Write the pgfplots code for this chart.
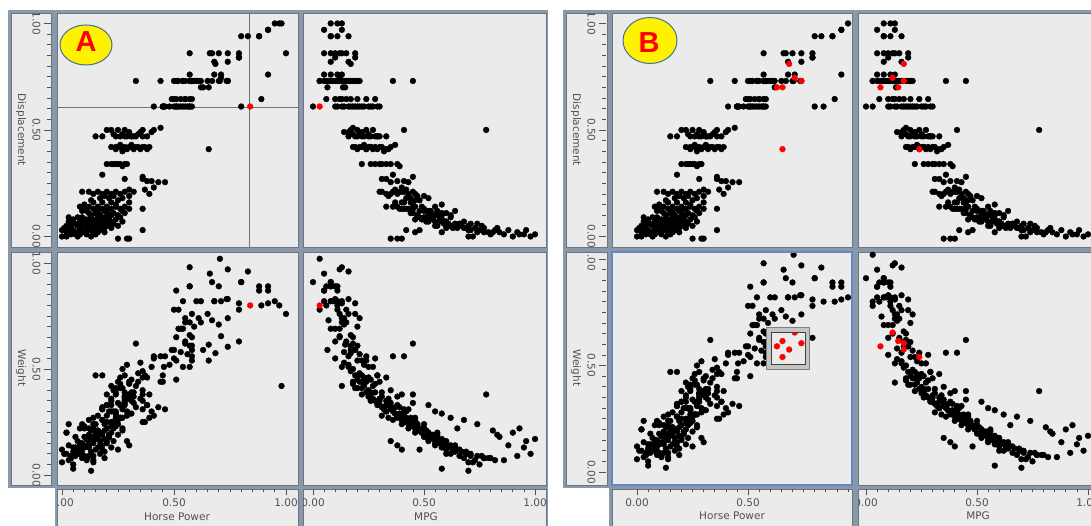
\documentclass[border=0pt]{standalone}
\usepackage{pgfplots}
\pgfplotsset{compat=1.18}
\usepackage{pgfplotstable}
\usepackage{fontspec}
\setmainfont{DejaVu Sans}
\newfontfamily\bigfont{Liberation Sans}
\definecolor{cellbg}{RGB}{235,235,235}
\definecolor{framecol}{RGB}{138,152,167}
\definecolor{frameedge}{RGB}{105,118,132}
\definecolor{txt}{RGB}{80,80,80}
\definecolor{selblue}{RGB}{100,135,200}
\definecolor{ellblue}{RGB}{70,110,160}

\pgfplotstableread{
hp disp wt mpg
0.95 1.00 0.82 0.08
0.98 1.00 0.42 0.13
0.97 1.00 0.80 0.11
0.92 0.97 0.81 0.13
0.92 0.97 0.87 0.05
0.88 0.94 0.89 0.08
0.83 0.94 0.96 0.16
0.88 0.94 0.87 0.11
0.80 0.94 0.91 0.08
1.00 0.86 0.76 0.19
0.57 0.86 0.98 0.13
0.66 0.86 0.95 0.05
0.67 0.86 0.91 0.08
0.70 0.86 0.89 0.10
0.74 0.86 0.97 0.12
0.79 0.86 0.78 0.15
0.68 0.82 0.82 0.08
0.74 0.82 0.83 0.16
0.79 0.84 0.81 0.19
0.79 0.84 0.63 0.10
0.57 0.76 0.89 0.11
0.68 0.76 0.82 0.13
0.71 0.76 0.82 0.05
0.92 0.76 0.89 0.08
0.62 0.70 0.72 0.135
0.33 0.73 0.62 0.45
0.44 0.73 0.56 0.36
0.50 0.73 0.78 0.03
0.51 0.73 0.87 0.05
0.52 0.73 0.69 0.08
0.54 0.73 0.82 0.10
0.54 0.73 0.69 0.12
0.55 0.73 0.74 0.14
0.57 0.73 0.89 0.06
0.57 0.73 0.72 0.15
0.58 0.73 0.76 0.16
0.58 0.73 0.65 0.18
0.59 0.73 0.70 0.20
0.60 0.73 0.82 0.11
0.61 0.73 0.74 0.13
0.62 0.73 0.82 0.09
0.65 0.73 0.76 0.12
0.67 0.73 0.73 0.07
0.70 0.73 0.71 0.14
0.74 0.73 0.74 0.21
0.735 0.73 0.83 0.10
0.705 0.73 1.02 0.03
0.58 0.73 0.61 0.17
0.58 0.73 0.59 0.19
0.49 0.645 0.59 0.17
0.51 0.645 0.65 0.12
0.53 0.645 0.69 0.10
0.55 0.645 0.63 0.15
0.57 0.645 0.61 0.20
0.58 0.645 0.56 0.24
0.89 0.645 0.80 0.06
0.50 0.645 0.55 0.28
0.55 0.645 0.72 0.13
0.80 0.61 0.91 0.00
0.41 0.61 0.55 0.10
0.455 0.61 0.51 0.13
0.46 0.61 0.56 0.16
0.50 0.61 0.59 0.19
0.51 0.61 0.54 0.22
0.52 0.61 0.78 0.11
0.53 0.61 0.58 0.14
0.54 0.61 0.51 0.25
0.55 0.61 0.62 0.18
0.56 0.61 0.57 0.21
0.57 0.61 0.51 0.27
0.57 0.61 0.66 0.17
0.45 0.61 0.47 0.29
0.45 0.61 0.44 0.30
0.48 0.61 0.52 0.23
0.58 0.61 0.54 0.20
0.51 0.61 0.45 0.26
0.44 0.51 0.44 0.18
0.40 0.49 0.51 0.16
0.22 0.50 0.42 0.27
0.25 0.50 0.44 0.24
0.28 0.50 0.47 0.20
0.36 0.50 0.49 0.17
0.20 0.50 0.38 0.78
0.15 0.47 0.47 0.29
0.18 0.47 0.47 0.22
0.24 0.47 0.41 0.19
0.29 0.47 0.52 0.16
0.31 0.47 0.45 0.20
0.33 0.47 0.42 0.23
0.36 0.47 0.46 0.25
0.26 0.47 0.43 0.28
0.28 0.47 0.36 0.30
0.31 0.47 0.39 0.26
0.23 0.48 0.40 0.25
0.34 0.48 0.48 0.21
0.27 0.48 0.50 0.18
0.30 0.49 0.44 0.22
0.35 0.49 0.53 0.14
0.38 0.47 0.46 0.33
0.41 0.50 0.56 0.41
0.32 0.47 0.34 0.29
0.22 0.42 0.35 0.26
0.24 0.42 0.38 0.22
0.26 0.42 0.33 0.30
0.27 0.41 0.41 0.20
0.28 0.42 0.37 0.25
0.29 0.41 0.30 0.33
0.30 0.42 0.43 0.18
0.31 0.42 0.35 0.28
0.32 0.41 0.39 0.24
0.33 0.42 0.32 0.31
0.34 0.42 0.44 0.21
0.35 0.41 0.36 0.27
0.36 0.42 0.40 0.35
0.37 0.42 0.47 0.19
0.38 0.41 0.33 0.29
0.39 0.42 0.38 0.26
0.26 0.43 0.46 0.23
0.31 0.43 0.29 0.37
0.27 0.40 0.31 0.32
0.24 0.41 0.27 0.34
0.20 0.34 0.33 0.30
0.22 0.34 0.36 0.26
0.23 0.34 0.30 0.33
0.24 0.34 0.39 0.28
0.25 0.34 0.34 0.35
0.26 0.34 0.41 0.22
0.28 0.34 0.37 0.38
0.29 0.34 0.28 0.31
0.27 0.33 0.32 0.39
0.18 0.29 0.31 0.36
0.36 0.28 0.38 0.45
0.36 0.27 0.35 0.33
0.38 0.26 0.33 0.38
0.40 0.26 0.30 0.41
0.43 0.255 0.32 0.35
0.46 0.255 0.31 0.43
0.41 0.23 0.28 0.40
0.39 0.20 0.27 0.46
0.37 0.22 0.25 0.42
0.28 0.27 0.39 0.31
0.30 0.22 0.29 0.37
0.09 0.21 0.24 0.40
0.12 0.21 0.26 0.36
0.14 0.20 0.22 0.43
0.16 0.21 0.28 0.39
0.18 0.20 0.31 0.35
0.20 0.21 0.25 0.45
0.22 0.20 0.33 0.33
0.24 0.21 0.29 0.41
0.26 0.20 0.27 0.38
0.28 0.21 0.35 0.30
0.19 0.19 0.24 0.47
0.21 0.18 0.30 0.42
0.23 0.19 0.22 0.50
0.27 0.18 0.27 0.44
0.17 0.18 0.20 0.52
0.13 0.17 0.21 0.48
0.25 0.17 0.26 0.46
0.30 0.19 0.36 0.34
0.32 0.21 0.37 0.31
0.08 0.14 0.15 0.55
0.10 0.13 0.18 0.50
0.12 0.14 0.22 0.46
0.14 0.13 0.24 0.43
0.16 0.14 0.20 0.49
0.18 0.13 0.26 0.40
0.20 0.14 0.28 0.38
0.22 0.13 0.23 0.45
0.24 0.14 0.30 0.36
0.26 0.13 0.27 0.42
0.28 0.14 0.33 0.33
0.30 0.13 0.29 0.39
0.36 0.13 0.31 0.41
0.11 0.12 0.17 0.56
0.15 0.11 0.19 0.52
0.19 0.12 0.21 0.48
0.23 0.11 0.25 0.44
0.27 0.12 0.22 0.50
0.13 0.10 0.16 0.58
0.17 0.10 0.14 0.62
0.21 0.10 0.19 0.54
0.25 0.10 0.24 0.47
0.14 0.16 0.27 0.41
0.18 0.16 0.32 0.37
0.22 0.16 0.25 0.44
0.10 0.15 0.23 0.45
0.12 0.11 0.13 0.60
0.16 0.12 0.18 0.53
0.20 0.11 0.16 0.58
0.09 0.12 0.12 0.64
0.00 0.03 0.12 0.48
0.02 0.02 0.20 0.46
0.00 0.00 0.06 0.72
0.04 0.01 0.08 0.80
0.13 0.00 0.02 0.70
0.02 0.05 0.10 0.62
0.03 0.07 0.14 0.55
0.04 0.04 0.08 0.68
0.05 0.03 0.05 0.75
0.05 0.08 0.13 0.58
0.06 0.06 0.09 0.66
0.06 0.02 0.18 0.84
0.07 0.05 0.11 0.63
0.07 0.09 0.16 0.52
0.08 0.03 0.14 0.88
0.08 0.07 0.12 0.60
0.09 0.05 0.10 0.70
0.09 0.09 0.15 0.57
0.10 0.02 0.09 0.92
0.10 0.06 0.13 0.61
0.11 0.04 0.08 0.77
0.11 0.08 0.17 0.54
0.12 0.03 0.16 0.96
0.12 0.07 0.14 0.59
0.13 0.05 0.11 0.67
0.13 0.09 0.18 0.51
0.14 0.02 0.09 0.74
0.14 0.06 0.15 0.56
0.15 0.04 0.12 0.65
0.15 0.08 0.20 0.49
0.16 0.05 0.13 0.62
0.16 0.09 0.21 0.47
0.17 0.03 0.10 0.71
0.17 0.07 0.16 0.57
0.18 0.05 0.14 0.64
0.18 0.09 0.19 0.53
0.19 0.04 0.11 0.69
0.19 0.08 0.17 0.58
0.20 0.06 0.15 0.60
0.20 0.09 0.22 0.48
0.21 0.05 0.18 0.55
0.22 0.07 0.20 0.52
0.23 0.06 0.16 0.59
0.24 0.08 0.23 0.46
0.25 0.05 0.19 0.56
0.27 0.07 0.21 0.51
0.25 -0.01 0.12 0.40
0.29 -0.01 0.16 0.35
0.30 -0.01 0.14 0.38
0.36 0.03 0.25 0.42
0.02 0.00 0.20 0.90
0.06 0.01 0.13 0.95
0.03 0.03 0.07 0.82
0.09 0.02 0.08 0.79
0.11 0.01 0.07 0.86
0.14 0.04 0.07 0.73
0.07 0.00 0.10 0.98
0.05 0.06 0.11 0.64
0.12 0.05 0.09 0.76
0.16 0.02 0.21 0.81
0.10 0.08 0.14 0.58
0.08 0.04 0.10 0.69
0.18 0.06 0.12 0.66
0.21 0.08 0.18 0.54
0.04 0.06 0.09 0.71
0.13 0.07 0.16 0.60
0.15 0.01 0.17 1.00
0.08 0.01 0.22 0.93
0.01 0.04 0.10 0.60
0.03 0.09 0.24 0.50
0.17 0.10 0.20 0.56
0.22 0.04 0.13 0.63
0.19 0.02 0.08 0.77
0.22 0.10 0.30 0.55
0.26 0.09 0.27 0.62
0.18 0.07 0.26 0.68
0.20 0.12 0.33 0.52
0.24 0.15 0.29 0.58
0.15 0.06 0.24 0.74
0.12 0.04 0.19 0.83
0.28 0.11 0.34 0.45
0.30 0.16 0.38 0.40
0.10 0.05 0.22 0.65
0.05 0.02 0.03 0.58
0.14 0.03 0.06 0.70
}\cars

\pgfplotstableread{
hp disp wt mpg
0.84 0.61 0.80 0.03
}\redA

\pgfplotstableread{
hp disp wt mpg
0.685 0.81 0.575 0.17
0.71 0.745 0.655 0.12
0.63 0.70 0.59 0.065
0.655 0.41 0.54 0.24
0.74 0.73 0.605 0.17
0.655 0.70 0.615 0.145
}\redB

\pgfplotsset{
  cell/.style={scale only axis, anchor=south west,
    tick align=outside, major tick length=7pt, minor tick length=4pt,
    tick style={txt, line width=0.7pt},
    axis line style={draw=none},
    xtick={0,0.5,1}, ytick={0,0.5,1}, minor tick num=9,
    xticklabels={0.00,0.50,1.00}, yticklabels={0.00,0.50,1.00},
    ticklabel style={font=\fontsize{10.5}{12}\selectfont, text=txt},
    yticklabel style={rotate=-90, anchor=north},
  },
  dots/.style={only marks, mark=*, mark size=2.9pt, black},
  reddots/.style={only marks, mark=*, mark size=2.9pt, red, mark options={draw=red, fill=red}},
}

\begin{document}
\begin{tikzpicture}[x=1pt,y=1pt]
\useasboundingbox (0,0) rectangle (1091,525);
\clip (0,0) rectangle (1091,525);
\fill[white] (0,0) rectangle (1091,525);

% ---------- frames panel A ----------
\fill[framecol] (8,37) rectangle (548,515);
\fill[framecol] (55,-5) rectangle (548,38);
\begin{scope}[fill=cellbg, draw=frameedge, line width=0.8pt]
\filldraw (11,278) rectangle (51,512);
\filldraw (11,40) rectangle (51,273);
\filldraw (57,278) rectangle (298,512);
\filldraw (303,278) rectangle (546,512);
\filldraw (57,40) rectangle (298,273);
\filldraw (303,40) rectangle (546,273);
\filldraw (57,-10) rectangle (298,36);
\filldraw (303,-10) rectangle (546,36);
\end{scope}

% ---------- frames panel B ----------
\fill[framecol] (563,37) rectangle (1105,515);
\fill[framecol] (609,-5) rectangle (1105,38);
\begin{scope}[fill=cellbg, draw=frameedge, line width=0.8pt]
\filldraw (566,278) rectangle (607,512);
\filldraw (566,40) rectangle (607,273);
\filldraw (612,278) rectangle (852,512);
\filldraw (858,278) rectangle (1101,512);
\filldraw (612,40) rectangle (852,273);
\filldraw (858,40) rectangle (1101,273);
\filldraw (612,-10) rectangle (852,36);
\filldraw (858,-10) rectangle (1101,36);
\end{scope}

% ---------- panel A axes ----------
\begin{scope}
\clip (11,278) rectangle (51,512) (11,40) rectangle (51,273)
      (57,278) rectangle (298,512) (303,278) rectangle (546,512)
      (57,40) rectangle (298,273) (303,40) rectangle (546,273)
      (57,-10) rectangle (298,36) (303,-10) rectangle (546,36);
% top-left: Displacement vs Horse Power
\begin{axis}[cell, at={(57pt,278pt)}, width=241pt, height=234pt,
  xmin=-0.0223, xmax=1.0536, ymin=-0.0493, ymax=1.049,
  axis x line=none, axis y line*=left, axis y line shift=6pt]
\addplot[black!55, line width=0.8pt] coordinates {(0.835,-0.2) (0.835,1.2)};
\addplot[black!55, line width=0.8pt] coordinates {(-0.2,0.608) (1.2,0.608)};
\addplot[dots] table[x=hp, y=disp] {\cars};
\addplot[dots] table[x=hp, y=disp] {\redB};
\addplot[reddots] table[x=hp, y=disp] {\redA};
\end{axis}
% top-right: Displacement vs MPG
\begin{axis}[cell, at={(303pt,278pt)}, width=243pt, height=234pt,
  xmin=-0.045, xmax=1.0495, ymin=-0.0493, ymax=1.049, hide axis]
\addplot[dots] table[x=mpg, y=disp] {\cars};
\addplot[dots] table[x=mpg, y=disp] {\redB};
\addplot[reddots] table[x=mpg, y=disp] {\redA};
\end{axis}
% bottom-left: Weight vs Horse Power
\begin{axis}[cell, at={(57pt,40pt)}, width=241pt, height=233pt,
  xmin=-0.0223, xmax=1.0536, ymin=-0.047, ymax=1.052,
  axis x line*=bottom, axis y line*=left,
  axis x line shift=3pt, axis y line shift=6pt]
\addplot[dots] table[x=hp, y=wt] {\cars};
\addplot[dots] table[x=hp, y=wt] {\redB};
\addplot[reddots] table[x=hp, y=wt] {\redA};
\end{axis}
% bottom-right: Weight vs MPG
\begin{axis}[cell, at={(303pt,40pt)}, width=243pt, height=233pt,
  xmin=-0.045, xmax=1.0495, ymin=-0.047, ymax=1.052,
  axis x line*=bottom, axis y line=none, axis x line shift=3pt]
\addplot[dots] table[x=mpg, y=wt] {\cars};
\addplot[dots] table[x=mpg, y=wt] {\redB};
\addplot[reddots] table[x=mpg, y=wt] {\redA};
\end{axis}
\end{scope}

% ---------- panel B axes ----------
\begin{scope}
\clip (566,278) rectangle (607,512) (566,40) rectangle (607,273)
      (612,278) rectangle (852,512) (858,278) rectangle (1101,512)
      (612,40) rectangle (852,273) (858,40) rectangle (1101,273)
      (612,-10) rectangle (852,36) (858,-10) rectangle (1101,36);
\begin{axis}[cell, at={(612pt,278pt)}, width=240pt, height=234pt,
  xmin=-0.1126, xmax=0.968, ymin=-0.0493, ymax=1.049,
  axis x line=none, axis y line*=left, axis y line shift=6pt]
\addplot[dots] table[x=hp, y=disp] {\cars};
\addplot[dots] table[x=hp, y=disp] {\redA};
\addplot[reddots] table[x=hp, y=disp] {\redB};
\end{axis}
\begin{axis}[cell, at={(858pt,278pt)}, width=243pt, height=234pt,
  xmin=-0.036, xmax=1.0586, ymin=-0.0493, ymax=1.049, hide axis]
\addplot[dots] table[x=mpg, y=disp] {\cars};
\addplot[dots] table[x=mpg, y=disp] {\redA};
\addplot[reddots] table[x=mpg, y=disp] {\redB};
\end{axis}
\begin{axis}[cell, at={(612pt,40pt)}, width=240pt, height=233pt,
  xmin=-0.1126, xmax=0.968, ymin=-0.061, ymax=1.033,
  axis x line*=bottom, axis y line*=left,
  axis x line shift=3pt, axis y line shift=6pt]
\addplot[dots] table[x=hp, y=wt] {\cars};
\addplot[dots] table[x=hp, y=wt] {\redA};
\addplot[reddots] table[x=hp, y=wt] {\redB};
\end{axis}
\begin{axis}[cell, at={(858pt,40pt)}, width=243pt, height=233pt,
  xmin=-0.036, xmax=1.0586, ymin=-0.061, ymax=1.033,
  axis x line*=bottom, axis y line=none, axis x line shift=3pt]
\addplot[dots] table[x=mpg, y=wt] {\cars};
\addplot[dots] table[x=mpg, y=wt] {\redA};
\addplot[reddots] table[x=mpg, y=wt] {\redB};
\end{axis}
\end{scope}

% ---------- decorations ----------
\draw[selblue, line width=2.5pt] (612,40) rectangle (852,273);
\fill[even odd rule, fill={rgb,255:red,196;green,196;blue,196}]
  (766,156) rectangle (809,198) (771,161) rectangle (805,193);
\draw[black!50, line width=0.8pt] (766,156) rectangle (809,198);
\draw[black!75, line width=0.8pt] (771,161) rectangle (805,193);

\filldraw[fill=yellow, draw=ellblue, line width=1pt] (86,480) ellipse [x radius=26, y radius=20];
\node[text=red, font=\bigfont\bfseries\fontsize{29}{29}\selectfont, inner sep=0pt] at (86,483) {A};
\filldraw[fill=yellow, draw=ellblue, line width=1pt] (650,484.5) ellipse [x radius=27, y radius=23];
\node[text=red, font=\bigfont\bfseries\fontsize{29}{29}\selectfont, inner sep=0pt] at (649,482.5) {B};

\begin{scope}[every node/.style={text=txt, font=\fontsize{10.5}{12}\selectfont, inner sep=0pt}]
\node[rotate=-90] at (21,395) {Displacement};
\node[rotate=-90] at (21,157) {Weight};
\node at (177,8) {Horse Power};
\node at (426,8) {MPG};
\node[rotate=-90] at (576,395) {Displacement};
\node[rotate=-90] at (576,157) {Weight};
\node at (732,9) {Horse Power};
\node at (978,9) {MPG};
\end{scope}
\end{tikzpicture}
\end{document}
